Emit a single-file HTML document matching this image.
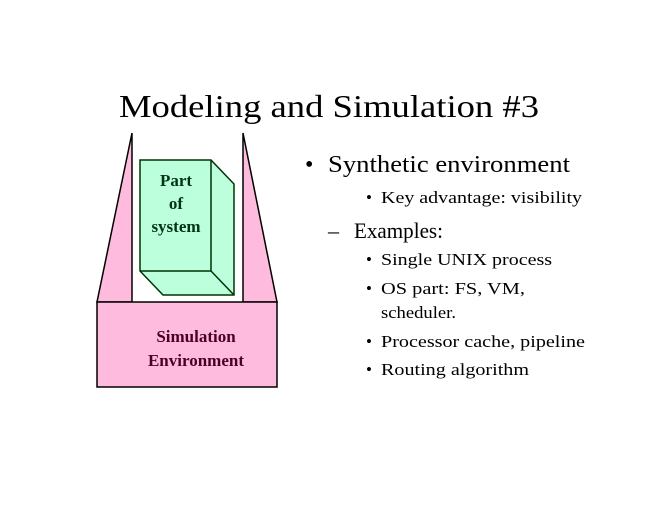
<!DOCTYPE html>
<html><head><style>html,body{margin:0;padding:0;background:#fff} svg text{font-family:"Liberation Serif","Times New Roman",serif}</style></head>
<body>
<svg width="660" height="510" xmlns="http://www.w3.org/2000/svg" style="font-family:'Liberation Serif',serif">
<rect width="660" height="510" fill="#fff"/>
<polygon points="132,133 97,302 132,302" fill="#ffbbdd" stroke="#000" stroke-width="1.5"/>
<polygon points="243,133 277,302 243,302" fill="#ffbbdd" stroke="#000" stroke-width="1.5"/>
<rect x="97" y="302" width="180" height="85" fill="#ffbbdd" stroke="#000" stroke-width="1.5"/>
<polygon points="140,160 211,160 234,184 234,295 163,295 140,271" fill="#bbffdd" stroke="#003300" stroke-width="1.5"/>
<polyline points="211,160 211,271 140,271" fill="none" stroke="#003300" stroke-width="1.5"/>
<line x1="211" y1="271" x2="234" y2="295" stroke="#003300" stroke-width="1.5"/>
<g font-weight="bold" font-size="17" fill="#003319" text-anchor="middle">
<text x="176" y="186">Part</text><text x="176" y="209">of</text><text x="176" y="232">system</text>
</g>
<g font-weight="bold" font-size="17" fill="#4a0022" text-anchor="middle">
<text x="196" y="342">Simulation</text><text x="196" y="366">Environment</text>
</g>
<text x="119" y="117" font-size="32" textLength="420" lengthAdjust="spacingAndGlyphs">Modeling and Simulation #3</text>
<text x="305" y="172" font-size="24">•</text>
<text x="328" y="172" font-size="24" textLength="242" lengthAdjust="spacingAndGlyphs">Synthetic environment</text>
<g font-size="17">
<text x="366" y="203">•</text><text x="381" y="203" textLength="201" lengthAdjust="spacingAndGlyphs">Key advantage: visibility</text>
<text x="366" y="265">•</text><text x="381" y="265" textLength="171" lengthAdjust="spacingAndGlyphs">Single UNIX process</text>
<text x="366" y="294">•</text><text x="381" y="294" textLength="144" lengthAdjust="spacingAndGlyphs">OS part: FS, VM,</text>
<text x="381" y="318" textLength="75" lengthAdjust="spacingAndGlyphs">scheduler.</text>
<text x="366" y="347">•</text><text x="381" y="347" textLength="204" lengthAdjust="spacingAndGlyphs">Processor cache, pipeline</text>
<text x="366" y="375">•</text><text x="381" y="375" textLength="148" lengthAdjust="spacingAndGlyphs">Routing algorithm</text>
</g>
<text x="328" y="238" font-size="22">–</text>
<text x="354" y="238" font-size="22" textLength="89" lengthAdjust="spacingAndGlyphs">Examples:</text>
</svg>
</body></html>
